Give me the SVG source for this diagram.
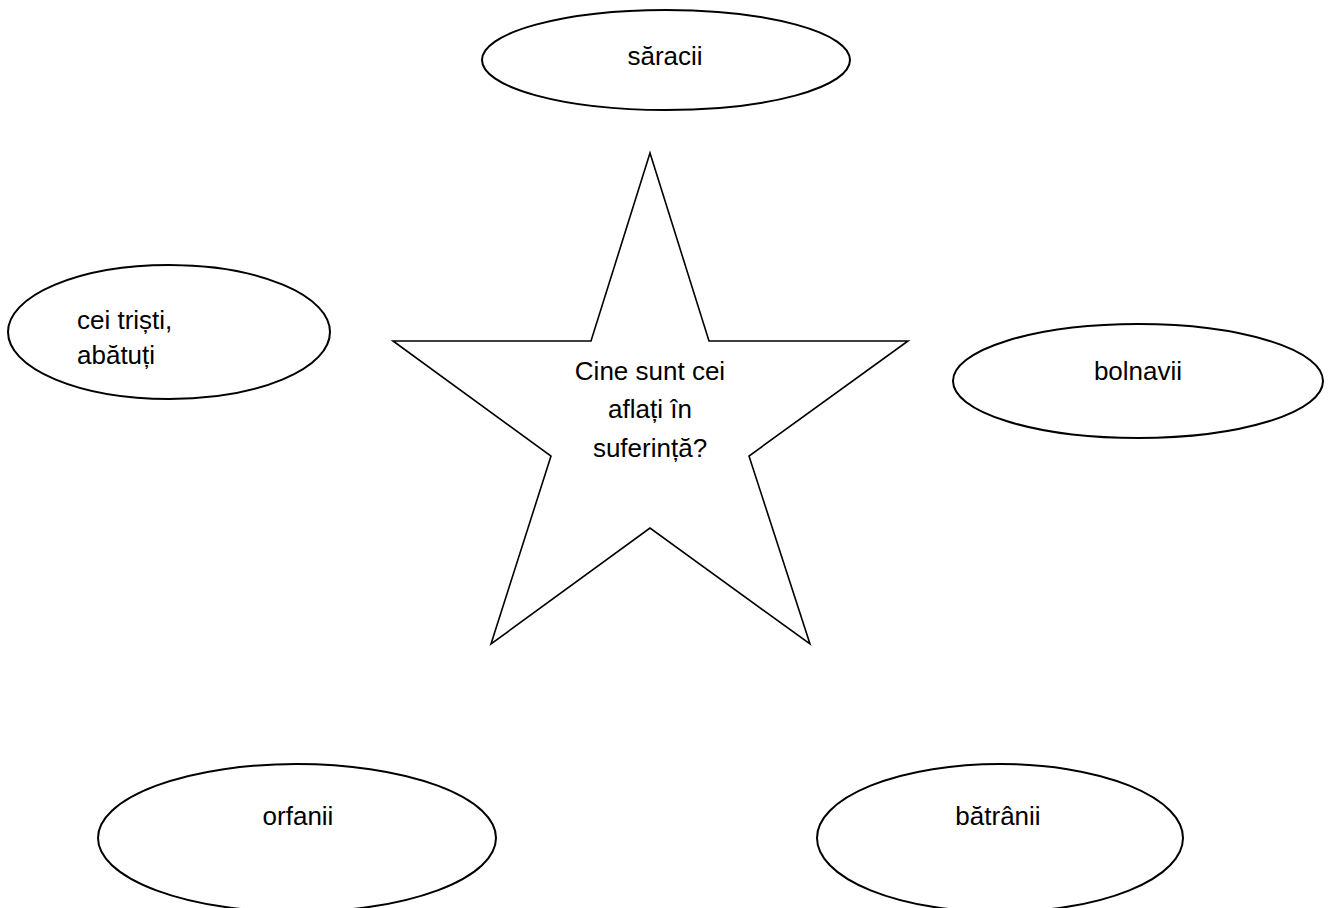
<svg xmlns="http://www.w3.org/2000/svg" width="1330" height="908" viewBox="0 0 1330 908">
<style>
.shape{fill:#fff;stroke:#000;stroke-width:2}
.star{fill:#fff;stroke:#000;stroke-width:1.6;stroke-linejoin:miter}
.t{font-family:"Liberation Sans",Arial,sans-serif;font-size:26px;fill:#000}
.c{text-anchor:middle}
</style>
<rect width="1330" height="908" fill="#fff"/>
<g id="connectors"></g>
<g id="star-center">
<polygon class="star" points="650,153 591,341 393,341 551,456 491,644 650,528 810,644 749,456 908,341 709,341"/>
<text class="t c" x="650" y="380">Cine sunt cei</text>
<text class="t c" x="650" y="418">aflați în</text>
<text class="t c" x="650" y="457">suferință?</text>
</g>
<g id="node-saracii">
<ellipse class="shape" cx="666" cy="60" rx="184" ry="50"/>
<text class="t c" x="665" y="65">săracii</text>
</g>
<g id="node-tristi">
<ellipse class="shape" cx="169" cy="332" rx="161" ry="67"/>
<text class="t" x="77" y="329">cei triști,</text>
<text class="t" x="77" y="364">abătuți</text>
</g>
<g id="node-bolnavii">
<ellipse class="shape" cx="1138" cy="381" rx="185" ry="57"/>
<text class="t c" x="1138" y="380">bolnavii</text>
</g>
<g id="node-orfanii">
<ellipse class="shape" cx="297" cy="838" rx="199" ry="74"/>
<text class="t c" x="298" y="825">orfanii</text>
</g>
<g id="node-batranii">
<ellipse class="shape" cx="1000" cy="838" rx="183" ry="74"/>
<text class="t c" x="998" y="825">bătrânii</text>
</g>
</svg>
